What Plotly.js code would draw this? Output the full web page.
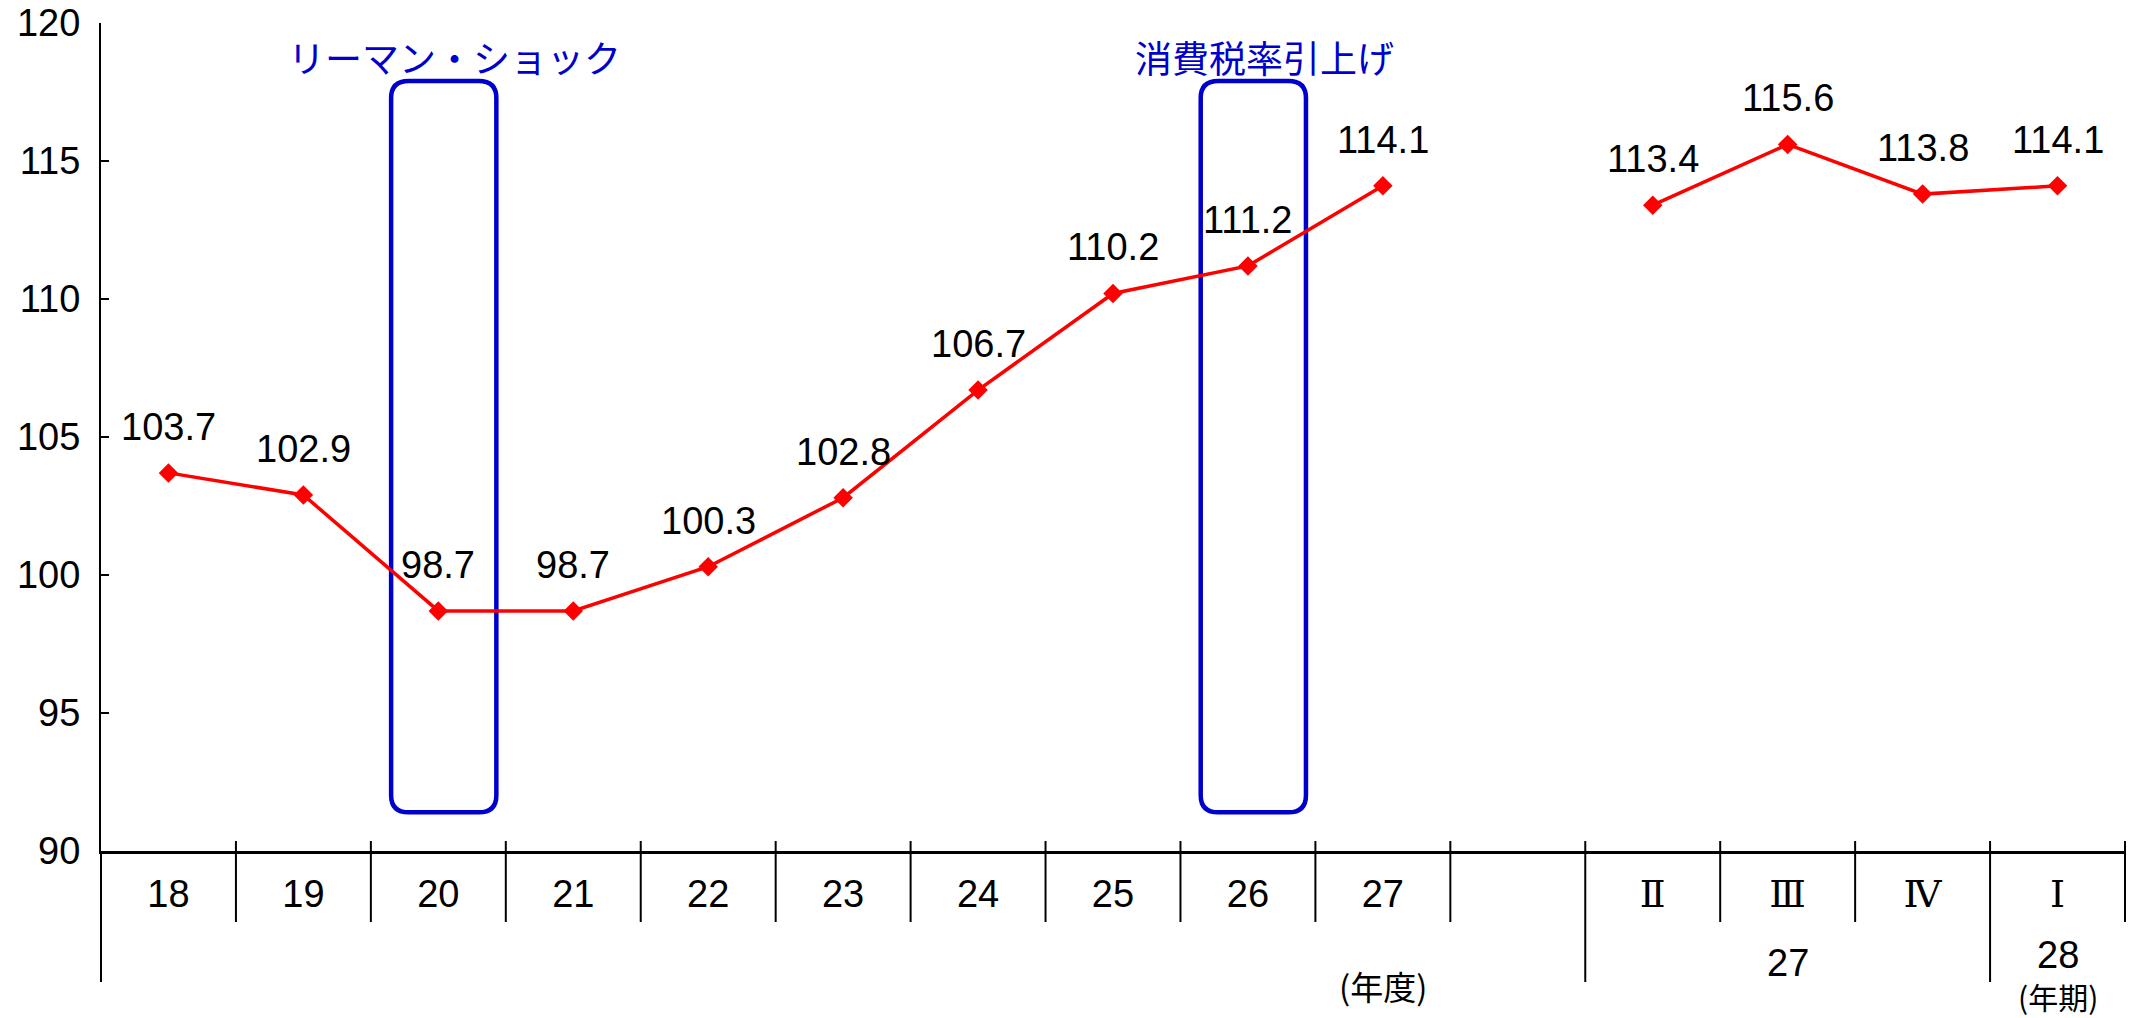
<!DOCTYPE html>
<html>
<head>
<meta charset="utf-8">
<script src="https://cdn.plot.ly/plotly-3.0.1.min.js"></script>
<style>html,body{margin:0;padding:0;background:#fff;}</style>
</head>
<body>
<div id="chart" style="width:2139px;height:1018px;"></div>
<script>
// ---- data ----
const categories = ['18','19','20','21','22','23','24','25','26','27','','Ⅱ','Ⅲ','Ⅳ','Ⅰ'];
const values = [103.7,102.9,98.7,98.7,100.3,102.8,106.7,110.2,111.2,114.1,null,113.4,115.6,113.8,114.1];
const groupLabels = ['27','28'];
const groupFirst = [11,14];
const groupLast = [13,14];
const fiscalUnit = '(年度)';
const quarterUnit = '(年期)';
const eventLabels = ['リーマン・ショック','消費税率引上げ'];
const eventCategory = ['20','26'];

// ---- styling / layout ----
const W = 2139, H = 1018;
const M = {l:101, r:14, t:23, b:167};
const plotH = H - M.t - M.b;
const numFont = 'Liberation Sans, Arial, Noto Sans CJK JP, sans-serif';
const romanFont = 'Liberation Serif, DejaVu Serif, serif';
const jpFont = 'Noto Sans CJK JP, sans-serif';
const blue = '#0000CC';
const n = categories.length;
const xIdx = categories.map((_, i) => i);
const px = v => v / plotH;                 // pixels -> paper fraction (vertical)
const xPaper = b => (b + 0.5) / n;          // category boundary -> paper
const tickText = categories.map(c => /^[\u2160-\u216F]$/.test(c)
  ? `<span style="font-family:${romanFont}">${c}</span>` : c);

const trace = {
  x: xIdx, y: values, type: 'scatter', mode: 'lines+markers',
  connectgaps: false,
  line: {color: '#FF0000', width: 3.5},
  marker: {symbol: 'diamond', size: 15, color: '#FF0000'},
  hoverinfo: 'skip', showlegend: false
};

const annotations = [];
values.forEach((v, i) => {
  if (v == null) return;
  annotations.push({x: i, y: v, xref: 'x', yref: 'y', text: v.toFixed(1), showarrow: false,
    yshift: 46, font: {family: numFont, size: 38, color: '#000'}});
});
// group labels (second row)
groupLabels.forEach((g, k) => {
  const c = (groupFirst[k] + groupLast[k]) / 2;
  const single = groupFirst[k] === groupLast[k];
  annotations.push({x: c, y: -px(single ? 104 : 112), xref: 'x', yref: 'paper', text: g, showarrow: false,
    yanchor: 'middle', borderpad: 0, font: {family: numFont, size: 38, color: '#000'}});
});
annotations.push({x: categories.indexOf('27'), y: -px(135), xref: 'x', yref: 'paper', text: fiscalUnit,
  showarrow: false, yanchor: 'middle', borderpad: 0, font: {family: jpFont, size: 33, color: '#000'}});
annotations.push({x: n - 1, y: -px(145), xref: 'x', yref: 'paper', text: quarterUnit,
  showarrow: false, yanchor: 'middle', borderpad: 0, font: {family: jpFont, size: 30, color: '#000'}});

// event boxes
const boxHalf = 0.39, boxY0 = 91.4, boxY1 = 117.9, rx = 0.13, ry = 0.62;
const shapes = [];
eventLabels.forEach((lab, k) => {
  const c = categories.indexOf(eventCategory[k]) + 0.04;
  const x0 = c - boxHalf, x1 = c + boxHalf;
  const p = `M ${x0+rx},${boxY1} L ${x1-rx},${boxY1} Q ${x1},${boxY1} ${x1},${boxY1-ry} ` +
            `L ${x1},${boxY0+ry} Q ${x1},${boxY0} ${x1-rx},${boxY0} L ${x0+rx},${boxY0} ` +
            `Q ${x0},${boxY0} ${x0},${boxY0+ry} L ${x0},${boxY1-ry} Q ${x0},${boxY1} ${x0+rx},${boxY1} Z`;
  shapes.push({type: 'path', xref: 'x', yref: 'y', path: p, line: {color: blue, width: 4.5}, layer: 'below'});
  annotations.push({x: c + 0.08, y: 118.77, xref: 'x', yref: 'y', text: lab, showarrow: false,
    yanchor: 'middle', font: {family: jpFont, size: 37, color: blue}});
});

// category separators
const longBounds = [-0.5, groupFirst[0] - 0.5, groupLast[0] + 0.5];
for (let b = -0.5; b <= n - 0.5 + 1e-9; b += 1) {
  const isLong = longBounds.some(L => Math.abs(L - b) < 1e-6);
  shapes.push({type: 'line', xref: 'paper', yref: 'paper', x0: xPaper(b), x1: xPaper(b),
    y0: -px(isLong ? 131 : 71), y1: b < 0 ? 0 : px(10), line: {color: '#000', width: 2}});
}

const layout = {
  width: W, height: H, margin: M,
  paper_bgcolor: '#fff', plot_bgcolor: '#fff',
  showlegend: false,
  xaxis: {range: [-0.5, n - 0.5], tickmode: 'array', tickvals: xIdx, ticktext: tickText,
    ticks: '', showline: true, linecolor: '#000', linewidth: 3, showgrid: false, zeroline: false,
    ticklabelstandoff: 7, tickfont: {family: numFont, size: 38, color: '#000'}, fixedrange: true},
  yaxis: {range: [90, 120], tick0: 90, dtick: 5, ticks: 'inside', ticklen: 8, tickwidth: 2, tickcolor: '#000',
    showline: true, linecolor: '#000', linewidth: 2, showgrid: false, zeroline: false,
    ticklabelstandoff: 11, tickfont: {family: numFont, size: 38, color: '#000'}, fixedrange: true},
  shapes: shapes,
  annotations: annotations
};

Plotly.newPlot('chart', [trace], layout, {displayModeBar: false, staticPlot: true});
</script>
</body>
</html>
